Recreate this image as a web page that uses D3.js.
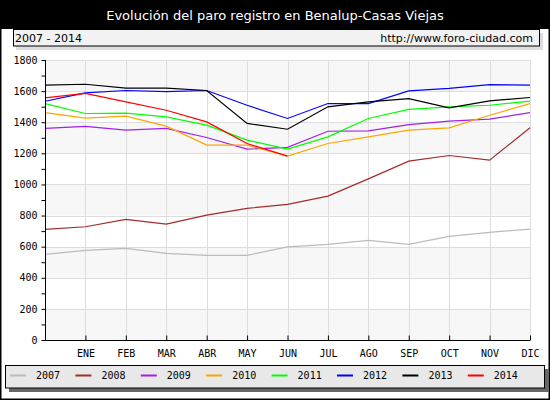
<!DOCTYPE html>
<html><head><meta charset="utf-8">
<script src="https://cdn.jsdelivr.net/npm/d3@7"></script>
<style>body{margin:0;background:#fff}svg{display:block}</style>
</head><body>
<script>
const months = ["", "ENE","FEB","MAR","ABR","MAY","JUN","JUL","AGO","SEP","OCT","NOV","DIC"];
const years = ["2007","2008","2009","2010","2011","2012","2013","2014"];
const colors = ["#bbbbbb","#a52a2a","#a020f0","#ffa500","#00ff00","#0000ff","#000000","#ff0000"];
const s2007 = [550,576,589,557,544,544,599,615,640,615,666,692,713];
const s2008 = [711,728,775,745,803,846,872,925,1036,1150,1186,1156,1364];
const s2009 = [1360,1373,1349,1360,1302,1227,1238,1342,1345,1385,1407,1420,1462];
const s2010 = [1462,1426,1439,1375,1253,1253,1182,1263,1306,1349,1364,1445,1520];
const s2011 = [1520,1456,1458,1434,1381,1285,1227,1306,1424,1482,1499,1509,1535];
const s2012 = [1535,1589,1604,1597,1604,1509,1424,1520,1520,1601,1617,1642,1638];
const s2013 = [1638,1644,1619,1619,1604,1392,1355,1499,1531,1552,1492,1537,1559];
const s2014 = [1557,1585,1531,1477,1402,1263,1182];
const yTicks = [0,200,400,600,800,1000,1200,1400,1600,1800];
const series = [s2007,s2008,s2009,s2010,s2011,s2012,s2013,s2014];

const W=550,H=400;
const svg=d3.select("body").append("svg").attr("width",W).attr("height",H);
svg.append("rect").attr("x",0.5).attr("y",0.5).attr("width",W-1).attr("height",H-1).attr("fill","#fff").attr("stroke","#000").attr("stroke-width",2);
svg.append("rect").attr("x",0).attr("y",0).attr("width",W).attr("height",29).attr("fill","#000");
svg.append("text").attr("x",W/2).attr("y",20).attr("text-anchor","middle").attr("fill","#fff")
  .style("font-family","DejaVu Sans").style("font-size","13px").text("Evolución del paro registro en Benalup-Casas Viejas");
// subtitle box
svg.append("rect").attr("x",16).attr("y",33).attr("width",527).attr("height",17).attr("fill","#dddddd");
svg.append("rect").attr("x",13.5).attr("y",29.5).attr("width",526).attr("height",16.5).attr("fill","#f2f2f2").attr("stroke","#000");
svg.append("text").attr("x",15).attr("y",38.5).attr("dominant-baseline","middle").style("font-family","DejaVu Sans").style("font-size","11px").text("2007 - 2014");
svg.append("text").attr("x",533).attr("y",38.5).attr("text-anchor","end").attr("dominant-baseline","middle").style("font-family","DejaVu Sans").style("font-size","11px").text("http://www.foro-ciudad.com");

const x=d3.scalePoint().domain(d3.range(13)).range([45,530]);
const y=d3.scaleLinear().domain([0,1800]).range([340,60]);
const g=svg.append("g");
// bands
for(let i=0;i<yTicks.length-1;i++){
  if(i%2===0) g.append("rect").attr("x",45).attr("y",y(yTicks[i+1])).attr("width",485).attr("height",y(yTicks[i])-y(yTicks[i+1])).attr("fill","#f7f7f7");
}
// grid
g.selectAll(".hg").data(yTicks.slice(1)).enter().append("line").attr("x1",45).attr("x2",530)
  .attr("y1",d=>Math.round(y(d))+0.5).attr("y2",d=>Math.round(y(d))+0.5).attr("stroke","#dddddd");
g.selectAll(".vg").data(d3.range(1,13)).enter().append("line").attr("y1",60).attr("y2",340)
  .attr("x1",d=>Math.round(x(d))+0.5).attr("x2",d=>Math.round(x(d))+0.5).attr("stroke","#dddddd");
// lines
const line=d3.line().x((d,i)=>x(i)).y(d=>y(d));
series.forEach((s,k)=>{
  g.append("path").datum(s).attr("d",line).attr("fill","none").attr("stroke",colors[k]).attr("stroke-width",1.2);
});
// axes
const ya=d3.axisLeft(y).tickValues(d3.range(0,1801,100)).tickSize(4).tickFormat(d=>d%200===0?d:"");
const yg=svg.append("g").attr("transform","translate(45.5,0)").call(ya);
yg.select(".domain").attr("d","M0,60V340");
yg.selectAll("text").style("font-family","DejaVu Sans Mono").style("font-size","10px").attr("x",-8);
const xa=d3.axisBottom(x).tickValues(d3.range(1,13)).tickSize(-5).tickFormat(i=>months[i]);
const xg=svg.append("g").attr("transform","translate(0,340.5)").call(xa);
xg.select(".domain").attr("d","M45,0H530");
xg.selectAll("text").style("font-family","DejaVu Sans Mono").style("font-size","10px").attr("y",9);
// legend
svg.append("rect").attr("x",9).attr("y",369).attr("width",540).attr("height",23).attr("fill","#666");
svg.append("rect").attr("x",5.5).attr("y",365.5).attr("width",539).attr("height",22.5).attr("fill","#e8e8e8").attr("stroke","#000");
const lg=svg.selectAll(".lg").data(years).enter().append("g").attr("transform",(d,i)=>`translate(${10+i*65.4},375.5)`);
lg.append("line").attr("x1",0).attr("x2",16).attr("stroke",(d,i)=>colors[i]).attr("stroke-width",2);
lg.append("text").attr("x",26).attr("y",0).attr("dominant-baseline","middle").style("font-family","DejaVu Sans Mono").style("font-size","10px").text(d=>d);
</script>
</body></html>
